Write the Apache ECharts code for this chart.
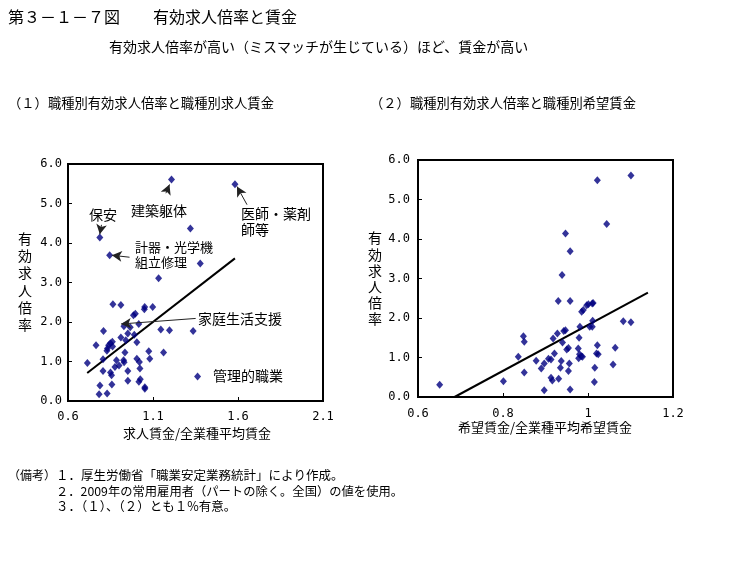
<!DOCTYPE html>
<html><head><meta charset="utf-8">
<script src="https://cdn.jsdelivr.net/npm/echarts@6/dist/echarts.min.js"></script>
<style>html,body{margin:0;padding:0;background:#fff}#c{width:731px;height:562px}</style>
</head><body><div id="c"></div>
<script>
// (1) 求人賃金/全業種平均賃金 vs 有効求人倍率
const leftX = [1.209,1.582,0.787,1.320,0.845,1.378,1.133,0.864,0.911,1.051,1.049,1.098,0.985,0.996,1.016,0.929,0.966,1.146,1.197,1.336,0.809,0.990,0.952,0.911,0.940,0.765,0.861,0.849,0.839,0.832,0.829,0.862,1.005,1.075,1.162,0.935,0.806,0.714,0.885,0.927,0.930,1.005,1.020,1.081,0.876,0.900,0.952,0.806,0.850,0.856,1.023,1.362,0.952,1.025,1.017,0.788,0.858,1.052,1.052,0.783,0.830];
const leftY = [5.61,5.49,4.14,4.37,3.69,3.48,3.11,2.45,2.43,2.38,2.32,2.38,2.17,2.21,1.95,1.89,1.87,1.81,1.79,1.77,1.77,1.68,1.71,1.61,1.54,1.41,1.50,1.46,1.41,1.33,1.27,1.38,1.49,1.26,1.23,1.23,1.06,0.96,1.03,1.03,0.98,1.07,0.99,1.07,0.86,0.90,0.76,0.76,0.72,0.65,0.82,0.62,0.51,0.55,0.49,0.39,0.42,0.35,0.31,0.17,0.19];
// (2) 希望賃金/全業種平均希望賃金 vs 有効求人倍率
const rightX = [0.651,0.801,0.836,0.848,0.850,0.850,0.878,0.890,0.897,0.897,0.907,0.913,0.913,0.916,0.918,0.921,0.928,0.930,0.931,0.935,0.937,0.939,0.940,0.943,0.947,0.947,0.950,0.954,0.954,0.956,0.958,0.958,0.958,0.979,0.977,0.978,0.980,0.984,0.987,0.985,0.989,0.981,0.997,1.001,1.004,1.010,1.010,1.012,1.011,1.022,1.022,1.020,1.024,1.016,1.015,1.044,1.059,1.064,1.083,1.101,1.101];
const rightY = [0.31,0.40,1.02,1.54,1.40,0.62,0.92,0.72,0.17,0.85,0.97,0.95,0.49,0.42,1.48,1.10,1.61,2.43,0.46,0.74,0.91,3.09,1.38,1.67,1.69,4.14,1.20,1.24,0.66,0.85,3.69,2.43,0.19,1.50,1.23,0.98,1.08,1.03,1.02,2.16,2.20,1.78,2.32,2.35,1.78,1.78,2.37,2.38,1.93,5.49,1.31,1.10,1.08,0.74,0.38,4.38,0.82,1.25,1.92,5.61,1.89];
// regression lines (endpoints)
const leftTrendX = [0.713, 1.582];
const leftTrendY = [0.71, 3.61];
const rightTrendX = [0.686, 1.141];
const rightTrendY = [0.0, 2.64];
// tick labels
const leftXTickLabels = ['0.6','1.1','1.6','2.1'];
const rightXTickLabels = ['0.6','0.8','1','1.2'];
const yTickLabels = ['0.0','1.0','2.0','3.0','4.0','5.0','6.0'];
// annotation arrows in data coordinates: [fromX, fromY, toX, toY]
const leftArrows = [
  [0.797,4.46,0.787,4.22],
  [1.176,5.26,1.197,5.48],
  [1.653,4.97,1.594,5.43],
  [0.962,3.64,0.858,3.69],
  [1.351,2.09,0.912,1.95]
];

const zip = (a,b) => a.map((v,i)=>[v,b[i]]);
const chart = echarts.init(document.getElementById('c'), null, {renderer:'canvas'});
const numFont = 'DejaVu Sans Mono';
const jp = '"Noto Sans CJK JP"';
function xAxis(gi, min, max, interval, labels, margin){
  return {type:'value', gridIndex:gi, min, max, interval,
    axisLine:{show:true, lineStyle:{color:'#000', width:2}},
    axisTick:{show:true, inside:true, length:4, lineStyle:{color:'#000', width:1}},
    splitLine:{show:false},
    axisLabel:{color:'#000', fontFamily:numFont, fontSize:12, margin, formatter:(v,i)=>labels[i]}};
}
function yAxis(gi, margin){
  return {type:'value', gridIndex:gi, min:0, max:6, interval:1,
    axisLine:{show:true, lineStyle:{color:'#000', width:2}},
    axisTick:{show:true, inside:true, length:4, lineStyle:{color:'#000', width:1}},
    splitLine:{show:false},
    axisLabel:{color:'#000', fontFamily:numFont, fontSize:12, margin, formatter:(v,i)=>yTickLabels[i]}};
}
const txt = (x,y,text,size,align,extra) => Object.assign({type:'text', x, y, style:{text, fill:'#000', font:size+'px '+jp, textAlign:align||'left', textVerticalAlign:'middle'}}, extra||{});

const option = {
  animation:false,
  backgroundColor:'#fff',
  grid:[
    {left:68, top:164, width:255, height:237, show:true, borderColor:'#000', borderWidth:2, backgroundColor:'transparent'},
    {left:418, top:160, width:255, height:237, show:true, borderColor:'#000', borderWidth:2, backgroundColor:'transparent'}
  ],
  xAxis:[xAxis(0,0.6,2.1,0.5,leftXTickLabels,10), xAxis(1,0.6,1.2,0.2,rightXTickLabels,11)],
  yAxis:[yAxis(0,6), yAxis(1,8)],
  series:[
    {type:'scatter', xAxisIndex:0, yAxisIndex:0, symbol:'diamond', symbolSize:[7,8],
     itemStyle:{color:'#000080'}, data:zip(leftX,leftY), z:3,
     markLine:{silent:true, symbol:['none','arrow'], symbolSize:[8,10], precision:3,
       lineStyle:{color:'#222', width:1, type:'solid'}, label:{show:false},
       data:leftArrows.map(a=>[{coord:[a[0],a[1]]},{coord:[a[2],a[3]]}])}},
    {type:'line', xAxisIndex:0, yAxisIndex:0, symbol:'none', lineStyle:{color:'#000', width:2},
     data:zip(leftTrendX,leftTrendY), z:2},
    {type:'scatter', xAxisIndex:1, yAxisIndex:1, symbol:'diamond', symbolSize:[7,8],
     itemStyle:{color:'#000080'}, data:zip(rightX,rightY), z:3},
    {type:'line', xAxisIndex:1, yAxisIndex:1, symbol:'none', lineStyle:{color:'#000', width:2},
     data:zip(rightTrendX,rightTrendY), z:2}
  ],
  graphic:[
    txt(8,17,'第３－１－７図',16),
    txt(153,17,'有効求人倍率と賃金',16),
    txt(109,47,'有効求人倍率が高い（ミスマッチが生じている）ほど、賃金が高い',14),
    txt(8,103,'（１）職種別有効求人倍率と職種別求人賃金',13.3),
    txt(370,103,'（２）職種別有効求人倍率と職種別希望賃金',13.3),
    // y names
    {type:'text', x:25, y:230, style:{text:'有\n効\n求\n人\n倍\n率', fill:'#000', font:'14px '+jp, textAlign:'center', textVerticalAlign:'top', lineHeight:17.2}},
    {type:'text', x:375, y:230, style:{text:'有\n効\n求\n人\n倍\n率', fill:'#000', font:'14px '+jp, textAlign:'center', textVerticalAlign:'top', lineHeight:16.2}},
    // x names
    txt(197,433,'求人賃金/全業種平均賃金',13,'center'),
    txt(545,427,'希望賃金/全業種平均希望賃金',13,'center'),
    // annotations
    txt(103,215,'保安',14,'center'),
    txt(159,211,'建築躯体',14,'center'),
    txt(241,214,'医師・薬剤',14),
    txt(241,230,'師等',14),
    txt(135,247,'計器・光学機',13),
    txt(135,262,'組立修理',13),
    txt(198,319,'家庭生活支援',14),
    txt(213,376,'管理的職業',14),
    // notes
    txt(8,475,'（備考）',12),
    txt(56,475,'１．厚生労働省「職業安定業務統計」により作成。',12.5),
    txt(56,491,'２．2009年の常用雇用者（パートの除く。全国）の値を使用。',12.3),
    txt(56,506,'３．（１）、（２）とも１%有意。',12.5)
  ]
};
chart.setOption(option);
</script></body></html>
